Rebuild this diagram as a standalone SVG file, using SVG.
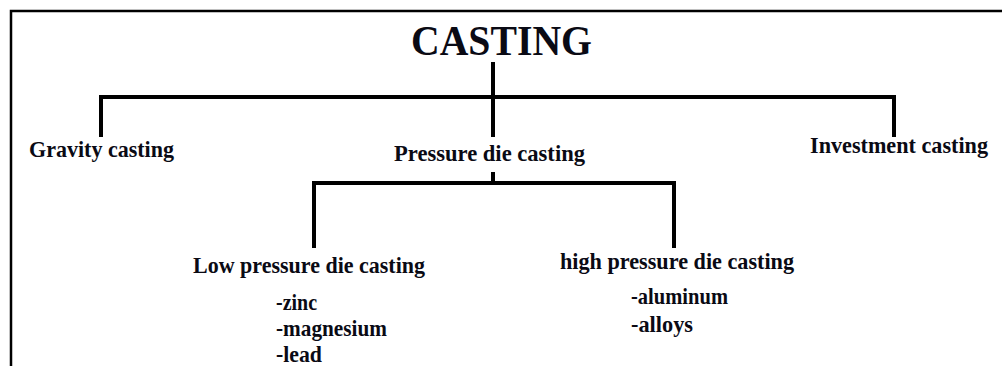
<svg xmlns="http://www.w3.org/2000/svg" width="1002" height="366" viewBox="0 0 1002 366">
<style>
.t{font-family:"Liberation Serif","Times New Roman",serif;font-weight:bold;fill:#0a0a14}
.l{stroke:#000;stroke-width:4;fill:none;stroke-linecap:butt}
.f{stroke:#000;stroke-width:2.5;fill:none}
</style>
<rect width="1002" height="366" fill="#fff"/>
<path class="f" d="M11,366 V11 H1002"/>
<g id="connectors">
<path class="l" d="M493,62 V137"/>
<path class="l" d="M101,137 V97 H894 V137"/>
<path class="l" d="M493,172 V183"/>
<path class="l" d="M314,248 V183 H674 V248"/>
</g>
<g id="casting"><text class="t" x="411" y="55" font-size="42" textLength="181" lengthAdjust="spacingAndGlyphs">CASTING</text></g>
<g id="gravity"><text class="t" x="29" y="157" font-size="23" textLength="145" lengthAdjust="spacingAndGlyphs">Gravity casting</text></g>
<g id="pressure"><text class="t" x="394" y="161" font-size="23" textLength="191" lengthAdjust="spacingAndGlyphs">Pressure die casting</text></g>
<g id="investment"><text class="t" x="810" y="153" font-size="23" textLength="178" lengthAdjust="spacingAndGlyphs">Investment casting</text></g>
<g id="low"><text class="t" x="193" y="273" font-size="23" textLength="232" lengthAdjust="spacingAndGlyphs">Low pressure die casting</text>
<text class="t" x="276" y="310" font-size="23" textLength="41" lengthAdjust="spacingAndGlyphs">-zinc</text>
<text class="t" x="276" y="336" font-size="23" textLength="111" lengthAdjust="spacingAndGlyphs">-magnesium</text>
<text class="t" x="276" y="362" font-size="23" textLength="46" lengthAdjust="spacingAndGlyphs">-lead</text></g>
<g id="high"><text class="t" x="560" y="269" font-size="23" textLength="234" lengthAdjust="spacingAndGlyphs">high pressure die casting</text>
<text class="t" x="631" y="304" font-size="23" textLength="97" lengthAdjust="spacingAndGlyphs">-aluminum</text>
<text class="t" x="631" y="332" font-size="23" textLength="62" lengthAdjust="spacingAndGlyphs">-alloys</text></g>
</svg>
